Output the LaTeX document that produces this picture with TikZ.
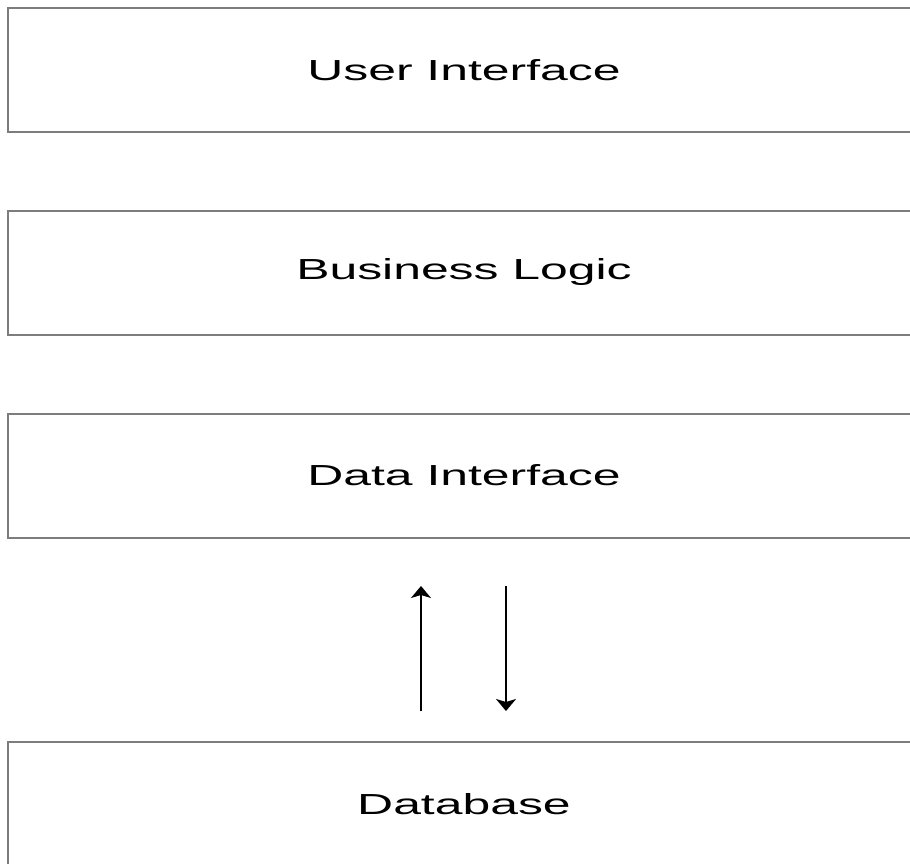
\documentclass[tikz,border=0pt]{standalone}
\usepackage{fontspec}
\setmainfont{Liberation Sans}
\usetikzlibrary{arrows.meta}
\definecolor{boxline}{RGB}{125,125,125}
\newcommand{\wide}[1]{\scalebox{1.72}[1]{\fontsize{29}{34}\selectfont #1}}
\begin{document}
\begin{tikzpicture}[x=1pt,y=-1pt,
  layer/.style={draw=boxline,line width=2pt,fill=white,rectangle,minimum width=912pt,minimum height=124pt,inner sep=0pt},
  flow/.style={draw=black,line width=1.6pt,-{Stealth[length=12pt,width=20pt,inset=3pt]}}]
\useasboundingbox (0,0) rectangle (910,864);
\node[layer] (ui) at (464,70.5) {\wide{User Interface}};
\node[layer] (bl) at (464,272.5) {\wide{Business Logic}};
\node[layer] (di) at (464,475.5) {\wide{Data Interface}};
\node[layer] (db) at (464,804) {\wide{Database}};
\coordinate (upA) at (421,711);
\coordinate (upB) at (421,586);
\coordinate (dnA) at (506,586);
\coordinate (dnB) at (506,711);
\draw[flow] (upA) -- (upB);
\draw[flow] (dnA) -- (dnB);
\end{tikzpicture}
\end{document}
